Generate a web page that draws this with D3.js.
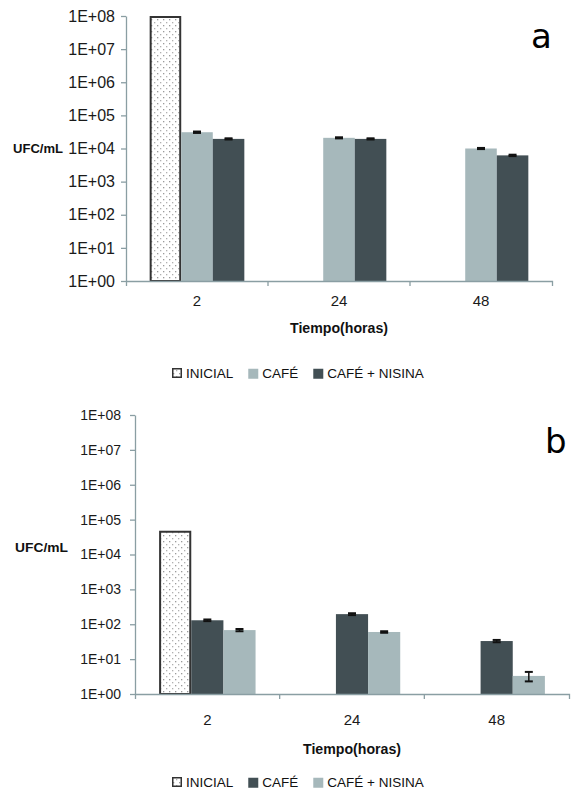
<!DOCTYPE html>
<html><head><meta charset="utf-8">
<script src="https://cdn.jsdelivr.net/npm/d3@7/dist/d3.min.js"></script>
<style>body{margin:0;background:#fff}svg{display:block}</style>
</head><body>
<svg id="c" width="571" height="793"></svg>
<script>
// ---- data ----
const categories = ["2", "24", "48"];
const seriesNames = ["INICIAL", "CAFÉ", "CAFÉ + NISINA"];
const yTicks = [1e0, 1e1, 1e2, 1e3, 1e4, 1e5, 1e6, 1e7, 1e8];

// panel a
const aInicial = [1e8, null, null];
const aCafe = [3.1e4, 2.1e4, 1.0e4];
const aNisina = [1.95e4, 1.95e4, 6.2e3];
const aCafeErr = [1.5e3, 8e2, 4e2];
const aNisinaErr = [8e2, 8e2, 3e2];

// panel b
const bInicial = [4.8e4, null, null];
const bCafe = [130, 195, 33];
const bNisina = [68, 60, 3.3];
const bCafeErr = [7, 12, 2.5];
const bNisinaErr = [5, 3, 1.0];

const LIGHT = "#a6b8bb", DARK = "#424f54", AXIS = "#8a9ea3";

const svg = d3.select("#c");
const defs = svg.append("defs");
const pat = defs.append("pattern").attr("id", "dots").attr("patternUnits", "userSpaceOnUse")
  .attr("width", 6).attr("height", 6);
pat.append("rect").attr("width", 6).attr("height", 6).attr("fill", "#fff");
pat.append("rect").attr("x", 1).attr("y", 1).attr("width", 1.3).attr("height", 1.3).attr("fill", "#9a9a9a");
pat.append("rect").attr("x", 4).attr("y", 4).attr("width", 1.3).attr("height", 1.3).attr("fill", "#b0b0b0");

function panel(cfg) {
  const g = svg.append("g");
  const y = d3.scaleLog().domain([1, 1e8]).range([cfg.y1, cfg.y0]);
  const x0 = d3.scaleBand().domain(categories).range([cfg.x0, cfg.x1]).paddingInner(0).paddingOuter(0);
  const bw = x0.bandwidth();
  const x1 = d3.scaleBand().domain(seriesNames).range([bw / 6, bw * 5 / 6]).padding(0);

  // y axis
  const ya = g.append("g").attr("transform", `translate(${cfg.x0},0)`)
    .call(d3.axisLeft(y).tickValues(yTicks).tickSize(5).tickSizeOuter(0).tickPadding(cfg.yPad)
      .tickFormat(d => "1E+" + String(Math.round(Math.log10(d))).padStart(2, "0")));
  ya.select(".domain").attr("stroke", AXIS).attr("stroke-width", 1.3);
  ya.selectAll(".tick line").attr("stroke", AXIS).attr("stroke-width", 1.3);
  ya.selectAll(".tick text").attr("fill", "#1a1a1a").style("font-family", "Liberation Sans, Arial, sans-serif")
    .style("font-size", cfg.yFont + "px");

  // bars
  const series = [
    { name: seriesNames[0], vals: cfg.inicial, err: null, fill: "url(#dots)", stroke: "#333" },
    { name: seriesNames[1], vals: cfg.cafe, err: cfg.cafeErr, fill: cfg.cafeColor, stroke: "none" },
    { name: seriesNames[2], vals: cfg.nisina, err: cfg.nisinaErr, fill: cfg.nisinaColor, stroke: "none" }
  ];
  series.forEach(s => {
    const data = categories.map((c, i) => ({ c, v: s.vals[i], e: s.err ? s.err[i] : null })).filter(d => d.v != null);
    const bars = g.append("g");
    bars.selectAll("rect").data(data).join("rect")
      .attr("x", d => x0(d.c) + x1(s.name) + (s.stroke !== "none" ? 1 : 0))
      .attr("y", d => y(d.v) + (s.stroke !== "none" ? 1 : 0))
      .attr("width", x1.bandwidth() - (s.stroke !== "none" ? 2 : 0))
      .attr("height", d => y(1) - y(d.v) - (s.stroke !== "none" ? 1 : 0))
      .attr("fill", s.fill).attr("stroke", s.stroke).attr("stroke-width", 2);
    const eb = g.append("g").attr("stroke", "#111");
    data.filter(d => d.e != null).forEach(d => {
      const cx = x0(d.c) + x1(s.name) + x1.bandwidth() / 2;
      const yt = y(d.v + d.e), yb = y(Math.max(d.v - d.e, 1.0001));
      eb.append("line").attr("x1", cx).attr("x2", cx).attr("y1", yt).attr("y2", yb).attr("stroke-width", 1.5);
      [yt, yb].forEach(yy => eb.append("line").attr("x1", cx - 4).attr("x2", cx + 4)
        .attr("y1", yy).attr("y2", yy).attr("stroke-width", 2));
    });
  });

  // x axis
  const xa = g.append("g").attr("transform", `translate(0,${cfg.y1})`)
    .call(d3.axisBottom(x0).tickSize(0).tickSizeOuter(5).tickPadding(cfg.xPad));
  xa.select(".domain").attr("stroke", AXIS).attr("stroke-width", 1.3);
  xa.selectAll(".tick text").attr("fill", "#1a1a1a").style("font-family", "Liberation Sans, Arial, sans-serif")
    .style("font-size", "15px");
  categories.slice(1).forEach(c => {
    g.append("line").attr("x1", x0(c)).attr("x2", x0(c)).attr("y1", cfg.y1).attr("y2", cfg.y1 + 5)
      .attr("stroke", AXIS).attr("stroke-width", 1.3);
  });

  // labels
  g.append("text").attr("x", cfg.ufcX).attr("y", cfg.ufcY).text("UFC/mL")
    .style("font-family", "Liberation Sans, Arial, sans-serif").style("font-weight", "bold")
    .style("font-size", "13px").attr("textLength", cfg.ufcW).attr("lengthAdjust", "spacingAndGlyphs").attr("fill", "#111");
  g.append("text").attr("x", (cfg.x0 + cfg.x1) / 2).attr("y", cfg.titleY).attr("text-anchor", "middle")
    .text("Tiempo(horas)").style("font-family", "Liberation Sans, Arial, sans-serif").style("font-weight", "bold")
    .style("font-size", "14px").attr("textLength", 98).attr("lengthAdjust", "spacingAndGlyphs").attr("fill", "#111");
  g.append("text").attr("x", cfg.letterX).attr("y", cfg.letterY).text(cfg.letter)
    .style("font-family", "DejaVu Sans, sans-serif").style("font-size", "34px").attr("fill", "#000");

  // legend
  const leg = g.append("g").attr("transform", `translate(172,${cfg.legY})`);
  let cx = 0;
  series.forEach(s => {
    leg.append("rect").attr("x", cx + (s.stroke !== "none" ? 0.75 : 0)).attr("y", -9.25)
      .attr("width", s.stroke !== "none" ? 8.5 : 10).attr("height", s.stroke !== "none" ? 8.5 : 10)
      .attr("fill", s.fill).attr("stroke", s.stroke).attr("stroke-width", 1.5);
    const t = leg.append("text").attr("x", cx + 14).attr("y", 0).text(s.name)
      .style("font-family", "Liberation Sans, Arial, sans-serif").style("font-size", "13.5px").attr("fill", "#111");
    cx += 14 + t.node().getComputedTextLength() + 15;
  });
}

panel({
  x0: 126, x1: 552, y0: 16, y1: 281, yPad: 6, yFont: 16, xPad: 14,
  inicial: aInicial, cafe: aCafe, nisina: aNisina, cafeErr: aCafeErr, nisinaErr: aNisinaErr,
  cafeColor: LIGHT, nisinaColor: DARK,
  ufcX: 13, ufcY: 153, ufcW: 50, titleY: 333, legY: 378, letter: "a", letterX: 531, letterY: 48
});
panel({
  x0: 135, x1: 569, y0: 415, y1: 694, yPad: 9, yFont: 14, xPad: 20,
  inicial: bInicial, cafe: bCafe, nisina: bNisina, cafeErr: bCafeErr, nisinaErr: bNisinaErr,
  cafeColor: DARK, nisinaColor: LIGHT,
  ufcX: 15, ufcY: 552, ufcW: 53, titleY: 754, legY: 787, letter: "b", letterX: 545, letterY: 453
});
</script>
</body></html>
